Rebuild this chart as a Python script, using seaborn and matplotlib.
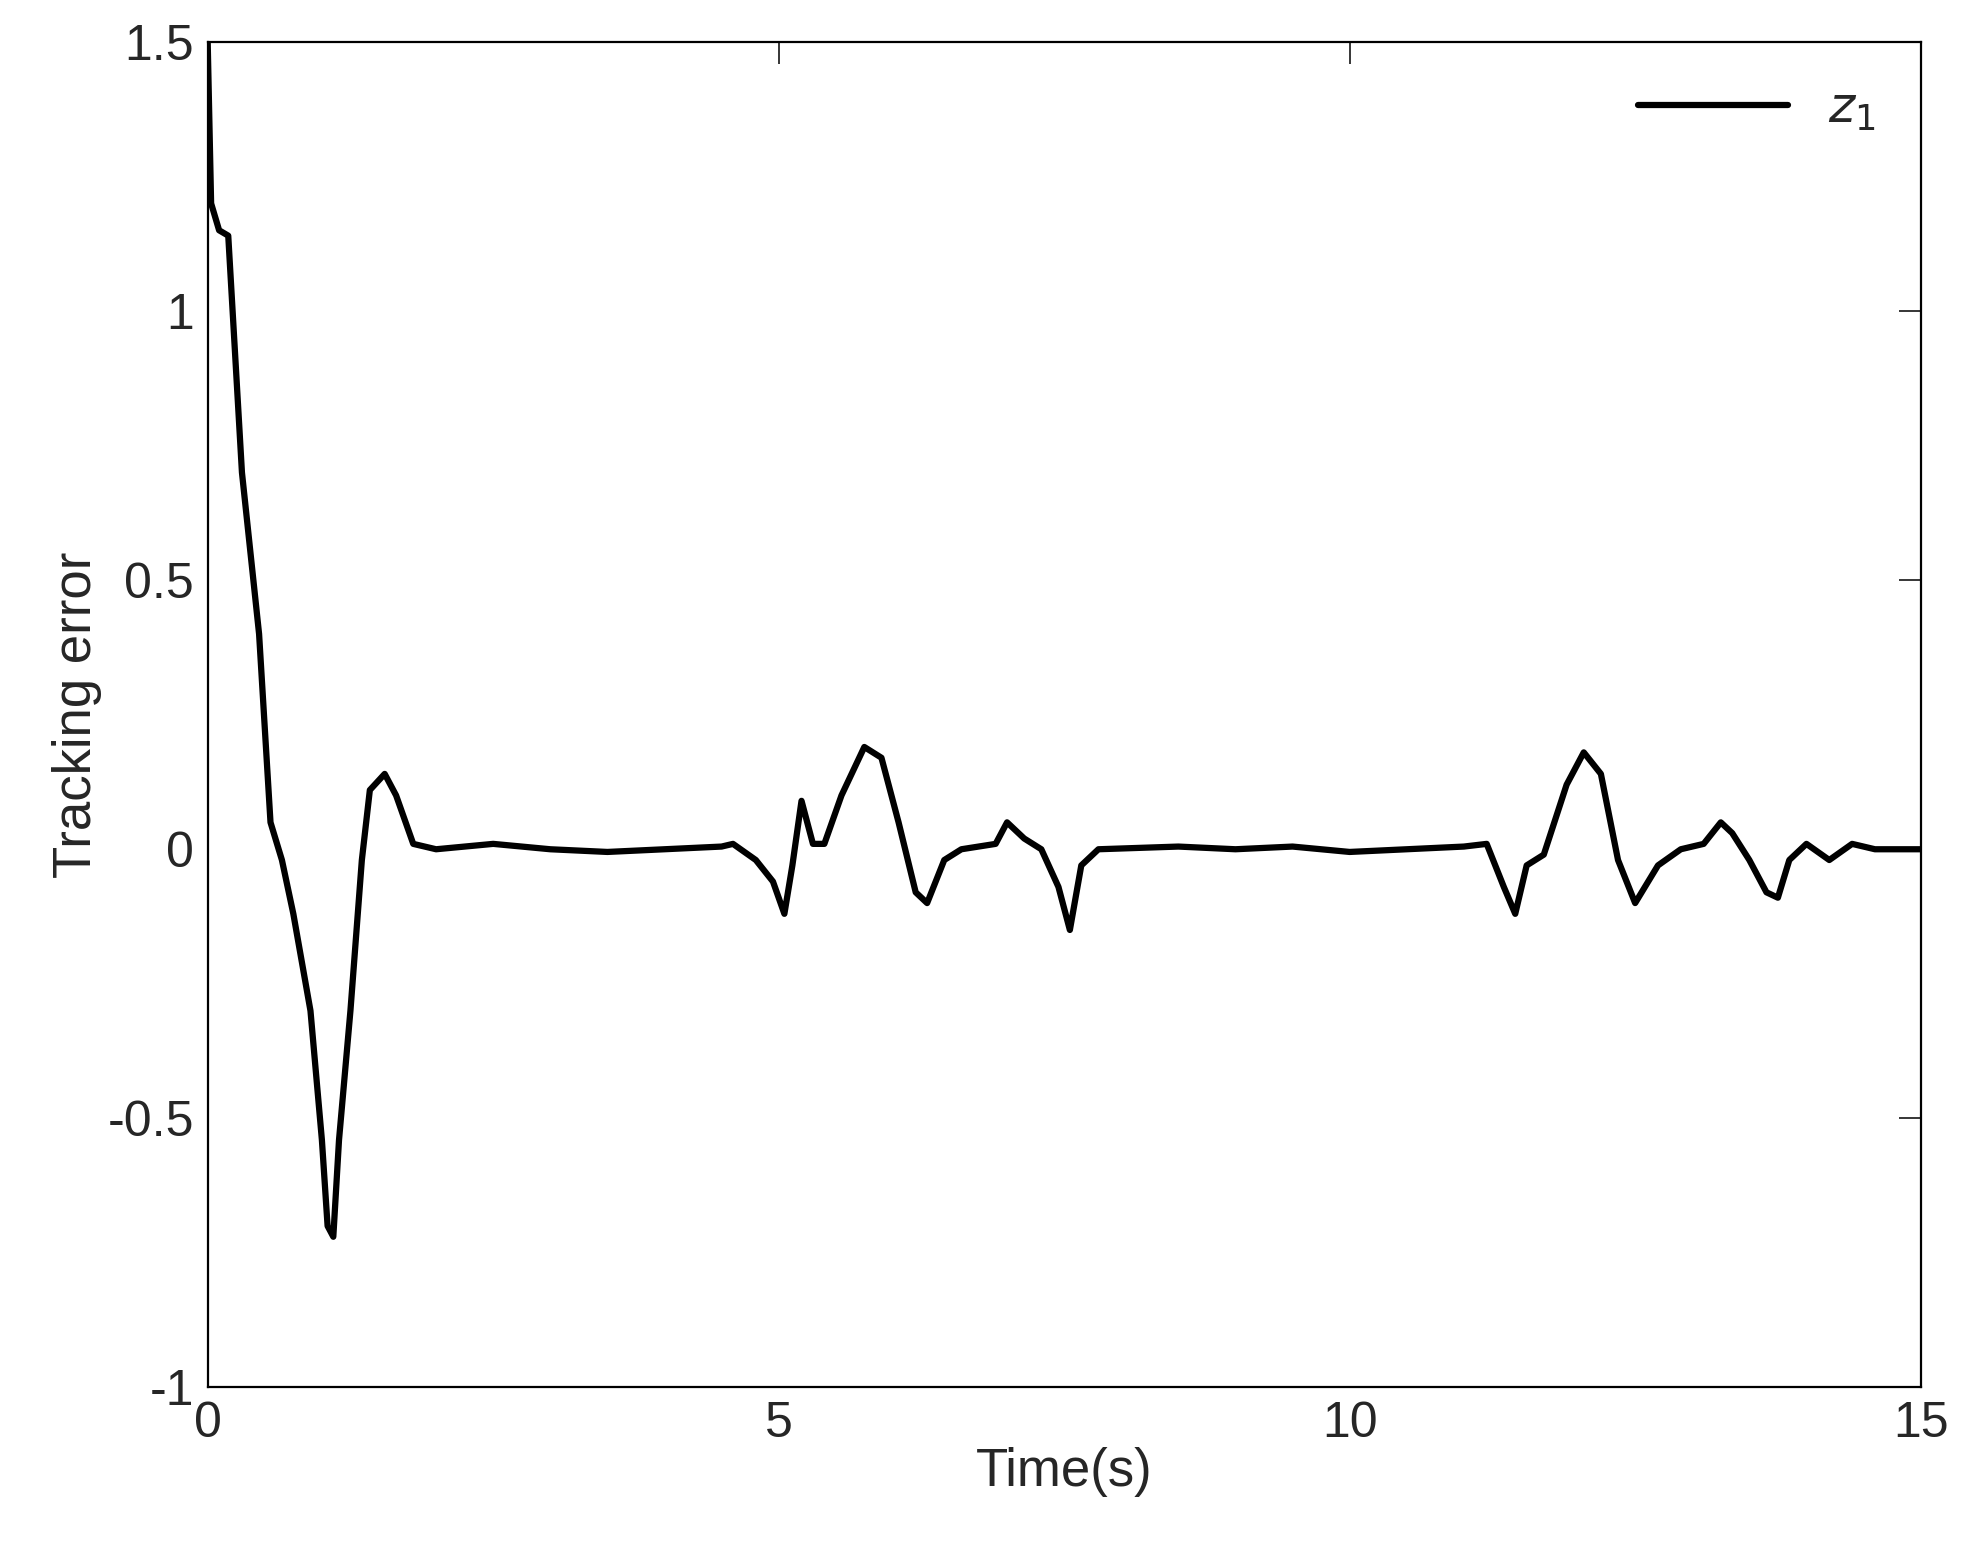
import matplotlib
matplotlib.use("Agg")
import matplotlib.pyplot as plt
import seaborn as sns
import pandas as pd

time_s = [0, 0.03, 0.1, 0.18, 0.3, 0.45, 0.55, 0.65, 0.75, 0.9, 1.0, 1.05, 1.1, 1.15, 1.25, 1.35, 1.42, 1.55, 1.65, 1.8, 2.0,
          2.5, 3.0, 3.5, 4.0, 4.5, 4.6, 4.8, 4.95, 5.05, 5.12, 5.2, 5.3, 5.4, 5.55, 5.75, 5.9, 6.05, 6.2, 6.3, 6.45, 6.6, 6.9,
          7.0, 7.15, 7.3, 7.45, 7.55, 7.65, 7.8, 8.5, 9.0, 9.5, 10.0, 10.5, 11.0, 11.2, 11.35, 11.45, 11.55, 11.7, 11.9, 12.05,
          12.2, 12.35, 12.5, 12.7, 12.9, 13.1, 13.25, 13.35, 13.5, 13.65, 13.75, 13.85, 14.0, 14.2, 14.4, 14.6, 15.0]
z1 = [1.5, 1.2, 1.15, 1.14, 0.7, 0.4, 0.05, -0.02, -0.12, -0.3, -0.54, -0.7, -0.72, -0.54, -0.3, -0.02, 0.11, 0.14, 0.1, 0.01, 0.0,
      0.01, 0.0, -0.005, 0.0, 0.005, 0.01, -0.02, -0.06, -0.12, -0.03, 0.09, 0.01, 0.01, 0.1, 0.19, 0.17, 0.05, -0.08, -0.1, -0.02, 0.0, 0.01,
      0.05, 0.02, 0.0, -0.07, -0.15, -0.03, 0.0, 0.005, 0.0, 0.005, -0.005, 0.0, 0.005, 0.01, -0.07, -0.12, -0.03, -0.01, 0.12, 0.18,
      0.14, -0.02, -0.1, -0.03, 0.0, 0.01, 0.05, 0.03, -0.02, -0.08, -0.09, -0.02, 0.01, -0.02, 0.01, 0.0, 0.0]

sns.set_style("white")
plt.rcParams['font.family'] = ['Liberation Sans', 'DejaVu Sans']
fig = plt.figure(figsize=(19.78, 15.52), dpi=100)
ax = fig.add_axes([0.105, 0.106, 0.866, 0.867])
df = pd.DataFrame({"t": time_s, "z": z1})
sns.lineplot(data=df, x="t", y="z", ax=ax, color="black", linewidth=4.5, label=r"$z_1$")
ax.set_xlim(0, 15)
ax.set_ylim(-1, 1.5)
ax.set_xticks([0, 5, 10, 15])
ax.set_yticks([-1, -0.5, 0, 0.5, 1, 1.5])
ax.set_yticklabels(["-1", "-0.5", "0", "0.5", "1", "1.5"])
ax.tick_params(direction="in", length=16, width=1.3, labelsize=36, top=True, right=True, pad=10)
for s in ax.spines.values():
    s.set_color("black"); s.set_linewidth(1.6)
ax.set_xlabel("Time(s)", fontsize=38, labelpad=0)
ax.set_ylabel("Tracking error", fontsize=38, labelpad=4)
ax.legend(loc="upper right", fontsize=36, frameon=False, handlelength=3)
fig.savefig("out.png", dpi=100)
